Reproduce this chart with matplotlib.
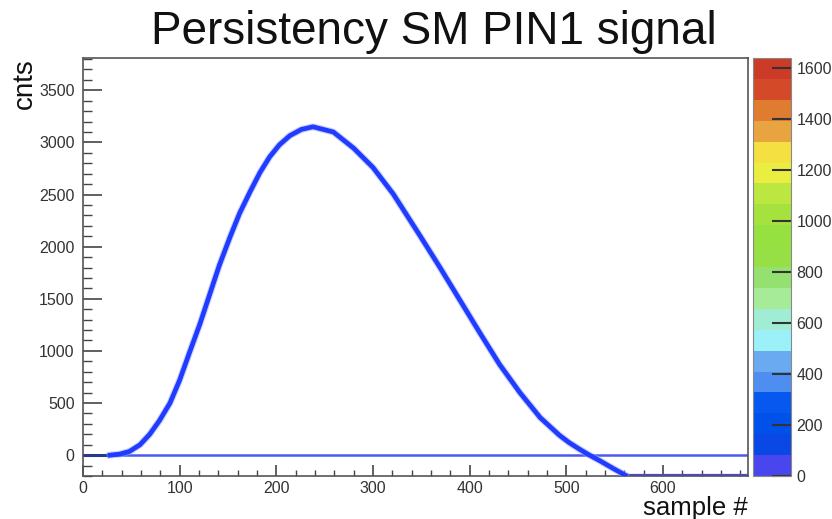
import matplotlib
matplotlib.use("Agg")
import matplotlib.pyplot as plt
import numpy as np
from matplotlib.colors import ListedColormap, BoundaryNorm
from matplotlib.cm import ScalarMappable
from matplotlib.ticker import MultipleLocator

plt.rcParams['font.family'] = ['Liberation Sans', 'DejaVu Sans']

# pulse shape (sample #, cnts)
pulse_x = [28, 38, 48, 59, 69, 79, 90, 100, 110, 121, 131, 141, 152, 162, 173, 183,
           193, 203, 214, 226, 238, 259, 280, 300, 321, 349, 370, 390, 411, 431,
           452, 473, 493, 503, 514, 524, 535, 548, 561]
pulse_y = [0, 10, 35, 100, 200, 330, 500, 720, 980, 1260, 1540, 1820, 2090, 2320,
           2530, 2710, 2860, 2975, 3065, 3125, 3150, 3100, 2945, 2760, 2505, 2100,
           1790, 1486, 1167, 870, 600, 360, 190, 120, 55, 0, -55, -125, -192]
# pedestal line and the overlap before the pulse
base_x = [0, 688]
base_y = [0, 0]
pre_x = [0, 32]
pre_y = [0, 0]
# underflow row after the pulse runs off the bottom
tail_x = [561, 688]
tail_y = [-188, -188]

# palette bands of the colour scale
band_colors = ['#4a46ee', '#0a48e6', '#0050ea', '#0658ee', '#4e8ef0', '#6aaaf0',
               '#9cf0f8', '#a0ecd4', '#a6ec98', '#94e070', '#96e046', '#96e040',
               '#a6e23e', '#bce640', '#eaee40', '#f4e040', '#e8a440', '#e07c30',
               '#d44a28', '#cc3a28']
z_max = 1640
z_ticks = [0, 200, 400, 600, 800, 1000, 1200, 1400, 1600]

fig = plt.figure(figsize=(8.32, 5.19), dpi=100)
ax = fig.add_axes([83/832, 1 - 476/519, 665/832, 418/519])

ax.plot(base_x, base_y, color='#4a5af0', lw=1.8, solid_capstyle='butt', zorder=2)
ax.plot(pre_x, pre_y, color='#28388e', lw=2.2, solid_capstyle='butt', zorder=3)
ax.plot(tail_x, tail_y, color='#4a46ee', lw=1.6, solid_capstyle='butt', zorder=2)
ax.plot(pulse_x, pulse_y, color='#9aa4ff', lw=5.0, alpha=0.5, zorder=3,
        solid_joinstyle='round')
ax.plot(pulse_x, pulse_y, color='#1f3cff', lw=3.4, zorder=4, solid_joinstyle='round')

ax.set_xlim(0, 688)
ax.set_ylim(-200, 3810)
ax.xaxis.set_major_locator(MultipleLocator(100))
ax.xaxis.set_minor_locator(MultipleLocator(20))
ax.yaxis.set_major_locator(MultipleLocator(500))
ax.yaxis.set_minor_locator(MultipleLocator(100))
ax.tick_params(which='both', direction='in', top=False, right=False,
               color='#444444', labelcolor='#333333', labelsize=11.5)
ax.tick_params(axis='y', which='major', length=14, width=1.2, pad=6)
ax.tick_params(axis='y', which='minor', length=6.5, width=1.0)
ax.tick_params(axis='x', which='major', length=8, width=1.2, pad=3.5)
ax.tick_params(axis='x', which='minor', length=4, width=1.0)
for s in ax.spines.values():
    s.set_color('#555555')
    s.set_linewidth(1.2)

fig.text(434/832, 1 - 32/519, 'Persistency SM PIN1 signal', fontsize=33,
         ha='center', va='center', color='#111111')
fig.text(25/832, 1 - 58/519, 'cnts', fontsize=20, rotation=90,
         ha='center', va='top', color='#111111')
fig.text(748/832, 1 - 515.5/519, 'sample #', fontsize=18.5,
         ha='right', va='baseline', color='#111111')

# colour scale
cax = fig.add_axes([753/832, 1 - 476/519, 38/832, 418/519])
bounds = np.linspace(0, z_max, len(band_colors) + 1)
cmap = ListedColormap(band_colors)
norm = BoundaryNorm(bounds, cmap.N)
cb = fig.colorbar(ScalarMappable(norm=norm, cmap=cmap), cax=cax, ticks=z_ticks)
cb.outline.set_edgecolor('#888888')
cb.outline.set_linewidth(0.8)
cax.minorticks_off()
cax.tick_params(direction='in', length=14, width=1.5, color='#333333',
                labelcolor='#333333', labelsize=11.5, pad=4)
cb.set_ticklabels([str(t) for t in z_ticks])

fig.savefig('out.png', dpi=100)
